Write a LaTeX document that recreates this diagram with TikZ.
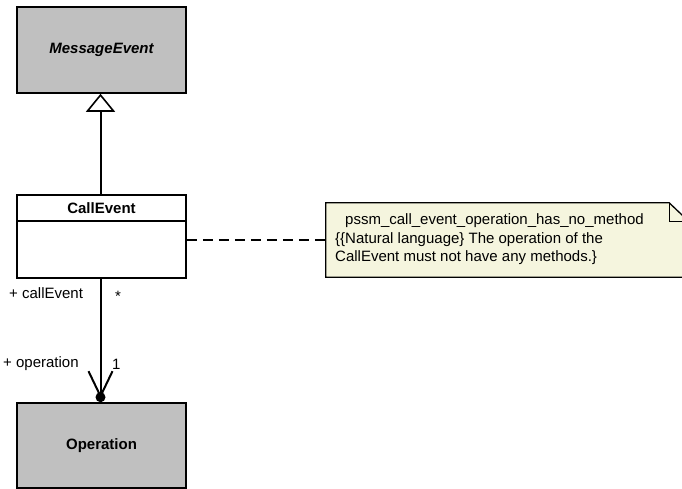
\documentclass[tikz,border=0pt]{standalone}
\usepackage{fontspec}
\setmainfont{Liberation Sans}
\usetikzlibrary{arrows.meta}
\definecolor{boxgray}{RGB}{192,192,192}
\definecolor{notefill}{RGB}{245,245,222}
\begin{document}
\begin{tikzpicture}[x=1pt,y=-1pt,
  every node/.style={font=\fontsize{15pt}{18pt}\selectfont},
  umlbox/.style={draw, line width=1.6pt, rectangle, minimum width=169pt, inner sep=0pt},
  lbl/.style={inner sep=0pt, anchor=west},
  conn/.style={line width=2pt}]
\useasboundingbox (0,0) rectangle (682,489);
\fill[white] (0,0) rectangle (682,489);
% classes
\node[umlbox, fill=boxgray, minimum height=86pt] (me) at (101.5,50) {\bfseries\itshape MessageEvent};
\node[umlbox, fill=white, minimum height=83pt] (ce) at (101.5,236.5) {};
\node[inner sep=0pt] (cet) at (101.5,208) {\bfseries CallEvent};
\draw[line width=1.6pt] (ce.west |- 0,221) -- (ce.east |- 0,221);
\node[umlbox, fill=boxgray, minimum height=85pt] (op) at (101.5,445.5) {\bfseries Operation};
% note
\node[minimum width=363pt, minimum height=74pt, inner sep=0pt] (note) at (507.5,240) {};
\draw[line width=1.3pt, fill=notefill]
  (note.north west) -- ([xshift=-20pt]note.north east) -- ([yshift=-19pt]note.north east)
  -- (note.south east) -- (note.south west) -- cycle;
\draw[line width=1.3pt] ([xshift=-20pt]note.north east) -- ([xshift=-20pt,yshift=-19pt]note.north east) -- ([yshift=-19pt]note.north east);
\node[lbl] (n1) at (345,221) {pssm\_call\_event\_operation\_has\_no\_method};
\node[lbl] (n2) at (335,240) {\{\{Natural language\} The operation of the};
\node[lbl] (n3) at (335,258) {CallEvent must not have any methods.\}};
% generalization
\draw[conn, -{Triangle[open, length=18pt, width=29pt, line width=1.6pt, fill=white]}] ([xshift=-1pt]ce.north) -- ([xshift=-1pt]me.south);
% note connector
\draw[conn, dash pattern=on 10pt off 6pt] (ce.east |- note.west) -- (note.west);
% association
\draw[conn] ([xshift=-1pt]ce.south) -- ([xshift=-1pt]op.north);
\draw[conn] ([xshift=-13pt,yshift=31pt]op.north) -- ([xshift=-1pt,yshift=6pt]op.north) -- ([xshift=11pt,yshift=31pt]op.north);
\fill ([xshift=-1pt,yshift=5pt]op.north) circle (5pt);
% labels
\node[lbl] (l1) at (9,293) {+ callEvent};
\node[lbl] (l2) at (115,296) {*};
\node[lbl] (l3) at (3,364) {+ operation};
\node[lbl] (l4) at (112,364) {1};
\end{tikzpicture}
\end{document}
